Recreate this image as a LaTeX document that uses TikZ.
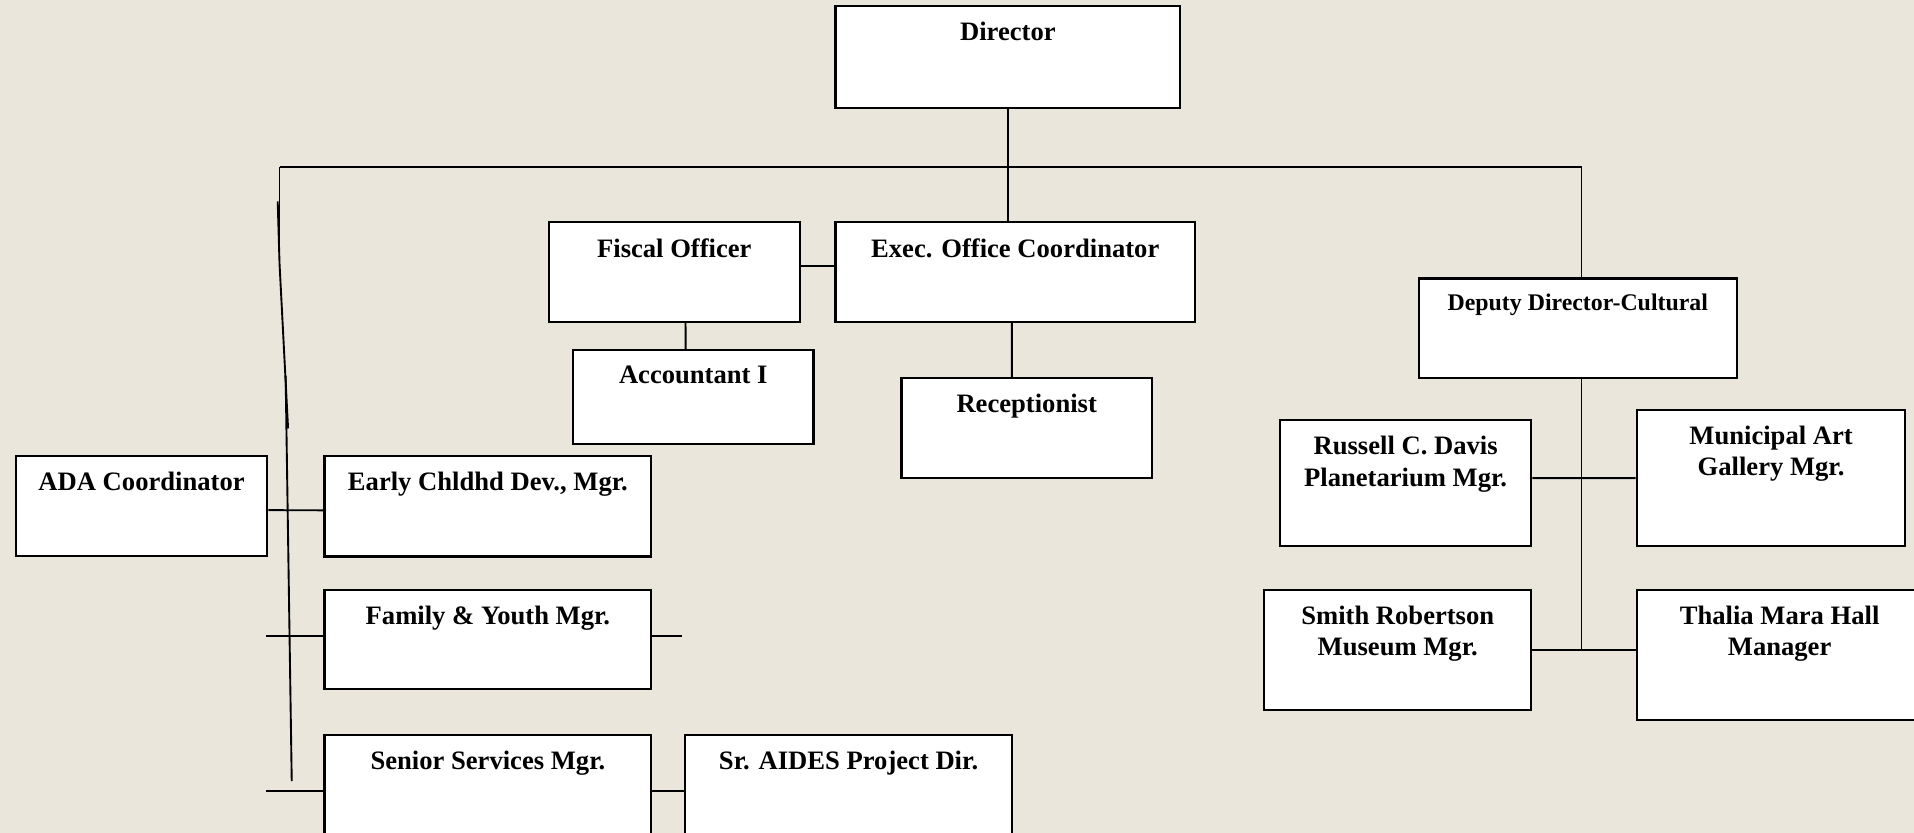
\documentclass[tikz,border=0pt]{standalone}
\usepackage{fontspec}
\setmainfont{Liberation Serif}
\usetikzlibrary{calc}
\definecolor{paper}{RGB}{234,230,220}
\tikzset{%
  % Specifications for style of nodes:
             post/.style = {rectangle, draw=black, fill=white, line width=1.3pt,
                            anchor=north west, inner sep=0pt},
          wh/.style 2 args = {minimum width=#1*0.025cm, minimum height=#2*0.025cm},
         posttext/.style = {anchor=north, inner sep=0pt, yshift=-0.35cm, align=center,
                            font=\bfseries\fontsize{15.5}{18.1}\selectfont},
        smalltext/.style = {anchor=north, inner sep=0pt, yshift=-0.33cm, align=center,
                            font=\bfseries\fontsize{13.9}{16.5}\selectfont},
             link/.style = {line width=1.1pt},
}

\begin{document}
\begin{tikzpicture}[x=0.025cm, y=-0.025cm]

  \useasboundingbox (0,0) rectangle (1568,682.4);
  \fill[paper] (0,0) rectangle (1568,682.4);

  % top level and office
  \node (director)     [post, wh={282.5}{83.6}, label={[posttext]north:Director}] at (683.5,4.1) {};
  \node (fiscal)       [post, wh={205.6}{81.7}, label={[posttext]north:Fiscal Officer}] at (448.7,181) {};
  \node (exec)         [post, wh={294.4}{81.7}, label={[posttext]north:Exec. Office Coordinator}] at (683.6,181) {};
  \node (accountant)   [post, wh={197.1}{77}, label={[posttext]north:Accountant I}] at (468.5,285.9) {};
  \node (receptionist) [post, wh={205.2}{81.7}, label={[posttext]north:Receptionist}] at (737.6,308.8) {};

  % cultural division
  \node (deputy)       [post, wh={260.5}{81.6}, label={[smalltext]north:Deputy Director-Cultural}] at (1161.4,227.2) {};
  \node (planetarium)  [post, wh={206}{103.2}, label={[posttext]north:{Russell C. Davis\\Planetarium Mgr.}}] at (1047.6,343.3) {};
  \node (gallery)      [post, wh={220}{111.5}, label={[posttext]north:{Municipal Art\\Gallery Mgr.}}] at (1340,335) {};
  \node (museum)       [post, wh={218.9}{98}, label={[posttext]north:{Smith Robertson\\Museum Mgr.}}] at (1034.7,482.5) {};
  \node (hall)         [post, wh={234}{106.2}, label={[posttext]north:{Thalia Mara Hall\\Manager}}] at (1340,482.5) {};

  % human services
  \node (ada)          [post, wh={205.9}{82}, label={[posttext]north:ADA Coordinator}] at (12.1,372.7) {};
  \node (early)        [post, wh={267.6}{82.3}, label={[posttext]north:{Early Chldhd Dev., Mgr.}}] at (265,372.7) {};
  \node (family)       [post, wh={267.6}{81.1}, label={[posttext]north:{Family \& Youth Mgr.}}] at (265,482.5) {};
  \node (senior)       [post, wh={267.6}{91.8}, label={[posttext]north:Senior Services Mgr.}] at (265,601.3) {};
  \node (aides)        [post, wh={267.5}{91.8}, label={[posttext]north:Sr. AIDES Project Dir.}] at (560.5,601.3) {};

  \coordinate (bar-l) at (229,137);
  \coordinate (bar-r) at (1295.6,137);
  \coordinate (hub)   at (bar-r |- museum.east);

  \draw[link] (director.south) -- (director.south |- exec.north);
  \draw[link] (bar-l) -- (bar-r) -- (bar-r |- deputy.north);
  \draw[link] ($ (fiscal.east) + (0,-4.8) $) -- ($ (exec.west) + (0,-4.8) $);
  \draw[link] ($ (fiscal.south) + (9.2,0) $) -- ($ (accountant.north) + (-6.3,0) $);
  \draw[link] ($ (exec.south) + (-2.8,0) $) -- ($ (receptionist.north) + (-12.2,0) $);

  \draw[link] (bar-r |- deputy.south) -- (hub);
  \draw[link] ($ (planetarium.east) + (0,-4.1) $) -- (gallery.west);
  \draw[link] (museum.east) -- (hall.west |- museum.east);

  % left trunk, drawn in pieces
  \draw[link] (bar-l) -- (229,216);
  \draw[link] (227.5,165) -- (229,216) -- (236,351);
  \draw[link] (234,308) -- (239,640);

  \draw[link] ($ (ada.east) + (0,3.3) $) -- ($ (early.west) + (0,3.3) $);
  \draw[link] ($ (family.west) + (0,-3) $) -- ++(-47,0);
  \draw[link] ($ (family.east) + (0,-3) $) -- ++(24.4,0);
  \draw[link] (senior.west) -- ++(-47,0);
  \draw[link] (senior.east) -- (aides.west);

\end{tikzpicture}
\end{document}
